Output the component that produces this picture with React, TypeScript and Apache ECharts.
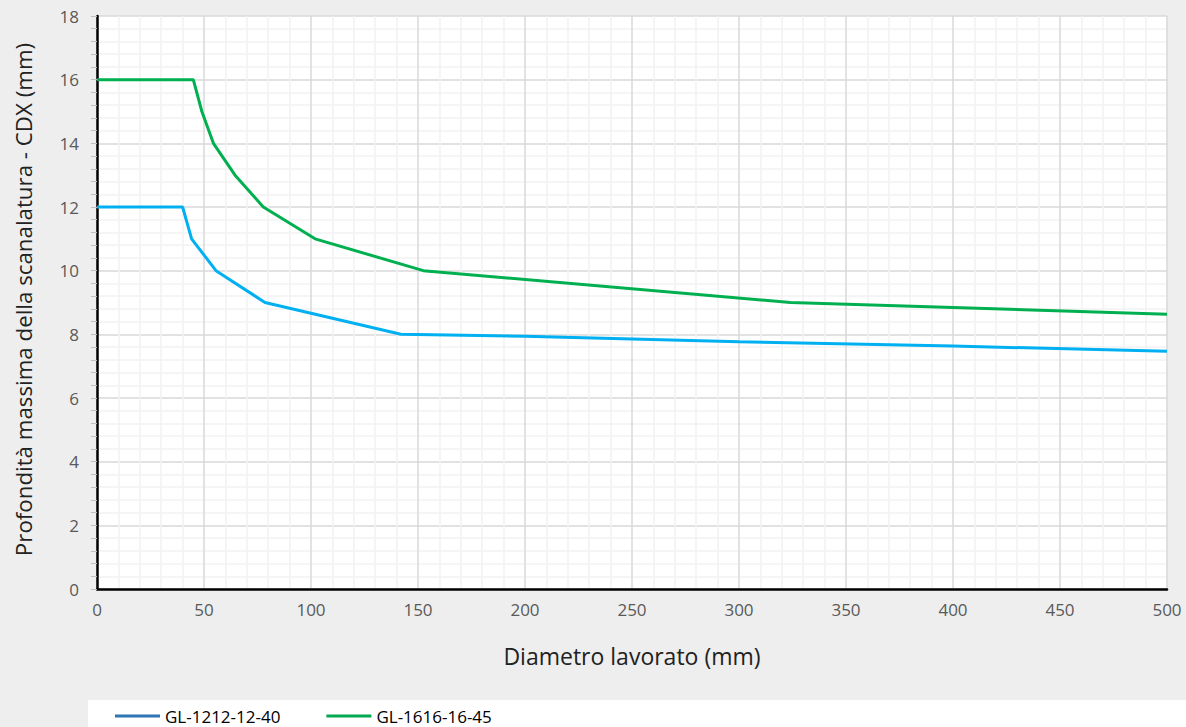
import React, { useEffect, useRef } from "react";
import * as echarts from "echarts";

const seriesNames = ["GL-1212-12-40", "GL-1616-16-45"];
const xBlue = [0, 40, 44.2, 55.6, 78.5, 142, 200, 300, 400, 500];
const yBlue = [12, 12, 11, 10, 9, 8, 7.94, 7.77, 7.63, 7.47];
const xGreen = [0, 45, 49, 54.4, 64.5, 77.7, 101.9, 152.5, 324, 500];
const yGreen = [16, 16, 15, 14, 13, 12, 11, 10, 9, 8.63];
const xTitle = "Diametro lavorato (mm)";
const yTitle = "Profondità massima della scanalatura - CDX (mm)";

const FONT = "'Open Sans', sans-serif";

export default function App() {
  const ref = useRef<HTMLDivElement>(null);
  useEffect(() => {
    if (!ref.current) return;
    const chart = echarts.init(ref.current, undefined, { renderer: "svg" });
    const pairs = (xs: number[], ys: number[]) => xs.map((x, i) => [x, ys[i]]);
    chart.setOption({
      animation: false,
      backgroundColor: "#eeeeee",
      textStyle: { fontFamily: FONT },
      grid: {
        left: 97,
        right: 19,
        top: 16,
        bottom: 138,
        show: true,
        backgroundColor: "#ffffff",
        borderWidth: 0,
      },
      graphic: [
        {
          type: "rect",
          left: 88,
          top: 700,
          shape: { width: 1098, height: 27 },
          style: { fill: "#ffffff" },
          z: -1,
        },
      ],
      legend: {
        left: 115,
        top: 703,
        padding: 0,
        icon: "rect",
        itemWidth: 45,
        itemHeight: 3,
        itemGap: 46,
        textStyle: { fontSize: 17, color: "#000", fontFamily: FONT, lineHeight: 26 },
        data: [
          { name: seriesNames[0], itemStyle: { color: "#2e75b6" } },
          { name: seriesNames[1], itemStyle: { color: "#00a84f" } },
        ],
      },
      xAxis: {
        type: "value",
        min: 0,
        max: 500,
        interval: 50,
        name: xTitle,
        nameLocation: "middle",
        nameGap: 55,
        nameTextStyle: { fontSize: 23, color: "#222", fontFamily: FONT },
        axisLine: { show: true, onZero: false, lineStyle: { color: "#000", width: 2.5 } },
        axisTick: { show: false },
        axisLabel: { fontSize: 17, color: "#595959", margin: 12, fontFamily: FONT },
        splitLine: { show: true, lineStyle: { color: "#d9d9d9", width: 1.5 } },
        minorTick: { show: false, splitNumber: 5 },
        minorSplitLine: { show: true, lineStyle: { color: "#f2f2f2", width: 1.5 } },
      },
      yAxis: {
        type: "value",
        min: 0,
        max: 18,
        interval: 2,
        name: yTitle,
        nameLocation: "middle",
        nameGap: 63,
        nameTextStyle: { fontSize: 22.3, color: "#222", fontFamily: FONT, padding: [0, 0, 0, 6] },
        axisLine: { show: true, onZero: false, lineStyle: { color: "#000", width: 2.5 } },
        axisTick: { show: true, length: 6, lineStyle: { color: "#bfbfbf", width: 1 } },
        minorTick: { show: true, splitNumber: 5, length: 6, lineStyle: { color: "#bfbfbf", width: 1 } },
        axisLabel: { fontSize: 17, color: "#595959", margin: 18, fontFamily: FONT },
        splitLine: { show: true, lineStyle: { color: "#d9d9d9", width: 1.5 } },
        minorSplitLine: { show: true, lineStyle: { color: "#f2f2f2", width: 1.5 } },
      },
      series: [
        {
          name: seriesNames[0],
          type: "line",
          data: pairs(xBlue, yBlue),
          showSymbol: false,
          symbol: "none",
          lineStyle: { color: "#00b0f0", width: 3 },
          itemStyle: { color: "#00b0f0" },
          z: 3,
        },
        {
          name: seriesNames[1],
          type: "line",
          data: pairs(xGreen, yGreen),
          showSymbol: false,
          symbol: "none",
          lineStyle: { color: "#00b050", width: 3 },
          itemStyle: { color: "#00b050" },
          z: 3,
        },
      ],
    });
    return () => chart.dispose();
  }, []);
  return (
    <div
      ref={ref}
      style={{ position: "absolute", left: 0, top: 0, width: 1186, height: 727 }}
    />
  );
}
